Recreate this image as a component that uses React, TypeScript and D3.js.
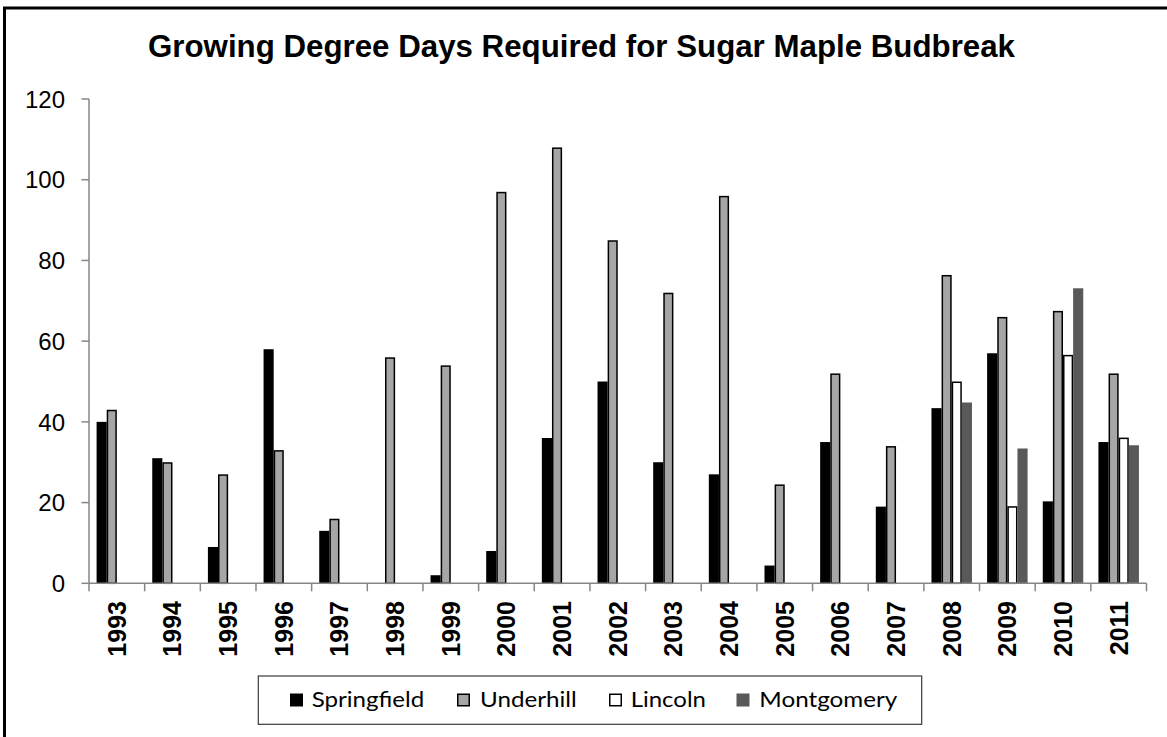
import React from "react";
import * as d3 from "d3";

const years = ["1993","1994","1995","1996","1997","1998","1999","2000","2001","2002","2003","2004","2005","2006","2007","2008","2009","2010","2011"];
const springfield: (number | null)[] = [40,31,9,58,13,null,2,8,36,50,30,27,4.4,35,19,43.4,57,20.3,35];
const underhill: (number | null)[] = [43,30,27,33,16,56,54,97,108,85,72,96,24.5,52,34,76.4,66,67.5,52];
const lincoln: (number | null)[] = [null,null,null,null,null,null,null,null,null,null,null,null,null,null,null,50,19.1,56.6,36.1];
const montgomery: (number | null)[] = [null,null,null,null,null,null,null,null,null,null,null,null,null,null,null,44.8,33.4,73.1,34.2];
const seriesNames = ["Springfield","Underhill","Lincoln","Montgomery"];
const yTicks = [0,20,40,60,80,100,120];
const title = "Growing Degree Days Required for Sugar Maple Budbreak";

const W = 1167, H = 737;
const fills = ["#000000", "#a6a6a6", "#ffffff", "#595959"];
const strokes = ["none", "#000000", "#000000", "none"];
const legendMarkerX = [290, 457, 609, 736.5];
const legendTextX = [311.7, 480, 630.7, 759.3];
const legendTextLen = [112.6, 96.7, 75.3, 138];

export default function App() {
  const x = d3.scaleBand<string>().domain(years).range([89, 1146.5]).padding(0);
  const y = d3.scaleLinear().domain([0, 120]).range([583.3, 99]);
  const series = [springfield, underhill, lincoln, montgomery];
  const bw = x.bandwidth() / 5.5;
  const axisColor = "#868686";

  return (
    <svg width={W} height={H} style={{ position: "absolute", left: 0, top: 0, background: "#fff" }}
      fontFamily="'Liberation Sans', Arial, sans-serif">
      <rect x={0} y={0} width={W} height={H} fill="#fff" />
      <rect x={4.5} y={8} width={1300} height={900} fill="none" stroke="#000" strokeWidth={3} />
      <text x={148} y={57.3} fontSize={31} fontWeight="bold" textLength={867} lengthAdjust="spacingAndGlyphs">{title}</text>

      {/* y axis */}
      <line x1={89} x2={89} y1={y(120)} y2={y(0)} stroke={axisColor} strokeWidth={1.5} />
      {yTicks.map((t) => (
        <g key={t}>
          <line x1={81.5} x2={89} y1={y(t)} y2={y(t)} stroke={axisColor} strokeWidth={1.5} />
          <text x={65} y={y(t)} dy="0.36em" textAnchor="end" fontSize={24} fill="#000">{t}</text>
        </g>
      ))}

      {/* bars */}
      {series.map((s, si) =>
        s.map((v, i) => {
          if (v == null || v === 0) return null;
          const x0 = (x(years[i]) as number) + 0.75 * bw + si * bw;
          const hasStroke = strokes[si] !== "none";
          const sw = hasStroke ? 1.5 : 0;
          return (
            <rect key={`${si}-${i}`} x={x0 + sw / 2} y={y(v) + sw / 2}
              width={bw - sw} height={y(0) - y(v) - sw / 2}
              fill={fills[si]} stroke={strokes[si]} strokeWidth={sw} />
          );
        })
      )}

      {/* x axis */}
      <line x1={89} x2={1146.5} y1={y(0)} y2={y(0)} stroke={axisColor} strokeWidth={1.5} />
      {years.map((yr) => (
        <line key={"t" + yr} x1={x(yr) as number} x2={x(yr) as number} y1={y(0)} y2={y(0) + 8} stroke={axisColor} strokeWidth={1.5} />
      ))}
      <line x1={1146.5} x2={1146.5} y1={y(0)} y2={y(0) + 8} stroke={axisColor} strokeWidth={1.5} />
      {years.map((yr) => {
        const cx = (x(yr) as number) + x.bandwidth() / 2;
        return (
          <text key={"l" + yr} transform={`translate(${cx},601) rotate(-90)`} textAnchor="end" dy="0.36em"
            fontSize={25} fontWeight="bold" fill="#000">{yr}</text>
        );
      })}

      {/* legend */}
      <rect x={258.3} y={676} width={663.4} height={48.3} fill="#fff" stroke="#3a3a3a" strokeWidth={1.2} />
      {seriesNames.map((n, i) => (
        <g key={n}>
          <rect x={legendMarkerX[i] + (strokes[i] !== "none" ? 0.75 : 0)} y={693.5 + (strokes[i] !== "none" ? 0.75 : 0)}
            width={strokes[i] !== "none" ? 11.5 : 13} height={strokes[i] !== "none" ? 11.5 : 13}
            fill={fills[i]} stroke={strokes[i]} strokeWidth={strokes[i] !== "none" ? 1.5 : 0} />
          <text x={legendTextX[i]} y={706.7} fontSize={21} fontFamily="Lato, 'Open Sans', sans-serif"
            textLength={legendTextLen[i]} lengthAdjust="spacingAndGlyphs" fill="#000">{n}</text>
        </g>
      ))}
    </svg>
  );
}
